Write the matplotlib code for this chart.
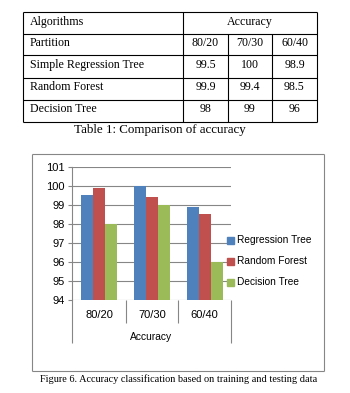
import matplotlib
matplotlib.use("Agg")
import matplotlib.pyplot as plt
from matplotlib.lines import Line2D

# ---- data ----
partitions = ["80/20", "70/30", "60/40"]
algorithms_table = ["Simple Regression Tree", "Random Forest", "Decision Tree"]
series_names = ["Regression Tree", "Random Forest", "Decision Tree"]
regression_tree = [99.5, 100, 98.9]
random_forest = [99.9, 99.4, 98.5]
decision_tree = [98, 99, 96]
table_values = [["99.5", "100", "98.9"], ["99.9", "99.4", "98.5"], ["98", "99", "96"]]
yticks = [94, 95, 96, 97, 98, 99, 100, 101]
colors = ["#4F81BD", "#C0504D", "#9BBB59"]

W, H = 350, 393
fig = plt.figure(figsize=(W / 100, H / 100), dpi=100)
fig.patch.set_facecolor("white")

def fx(x):
    return x / W

def fy(y):
    return 1 - y / H

def fline(x0, y0, x1, y1, color="black", lw=0.8):
    fig.add_artist(Line2D([fx(x0), fx(x1)], [fy(y0), fy(y1)], color=color, lw=lw,
                          transform=fig.transFigure, solid_capstyle="butt"))

serif = "Liberation Serif"
sans = "Liberation Sans"

# ---- table ----
tl, tr = 23, 317
rows_y = [12, 34, 55, 78, 100, 122]
col_x = [183, 228, 272]
for y in rows_y:
    fline(tl, y, tr, y)
fline(tl, 12, tl, 122)
fline(tr, 12, tr, 122)
fline(col_x[0], 12, col_x[0], 122)
for cx in col_x[1:]:
    fline(cx, 34, cx, 122)

tfs = 8.6
dy = -1.5
fig.text(fx(30), fy(23 + dy), "Algorithms", family=serif, fontsize=tfs, va="center", ha="left")
fig.text(fx((183 + 317) / 2), fy(23 + dy), "Accuracy", family=serif, fontsize=tfs, va="center", ha="center")
centers = [(183 + 228) / 2, (228 + 272) / 2, (272 + 317) / 2]
fig.text(fx(30), fy(44.5 + dy), "Partition", family=serif, fontsize=tfs, va="center", ha="left")
for c, p in zip(centers, partitions):
    fig.text(fx(c), fy(44.5 + dy), p, family=serif, fontsize=tfs, va="center", ha="center")
for i, name in enumerate(algorithms_table):
    yc = (rows_y[i + 2] + rows_y[i + 3]) / 2 + dy
    fig.text(fx(30), fy(yc), name, family=serif, fontsize=tfs, va="center", ha="left")
    for c, v in zip(centers, table_values[i]):
        fig.text(fx(c), fy(yc), v, family=serif, fontsize=tfs, va="center", ha="center")
fig.text(fx(160), fy(129.5), "Table 1: Comparison of accuracy", family=serif, fontsize=9.4,
         va="center", ha="center")

# ---- chart frame ----
frame_col = "#868686"
fline(32, 154, 324, 154, frame_col)
fline(32, 371, 324, 371, frame_col)
fline(32, 154, 32, 371, frame_col)
fline(324, 154, 324, 371, frame_col)

# ---- chart axes ----
al, ar, at, ab = 72, 231, 167, 300
ax = fig.add_axes([fx(al), fy(ab), fx(ar) - fx(al), fy(at) - fy(ab)])
ax.set_facecolor("none")
x = range(len(partitions))
bw = 12 / 53
series = [regression_tree, random_forest, decision_tree]
for k, (vals, col, name) in enumerate(zip(series, colors, series_names)):
    ax.bar([i + (k - 1) * bw for i in x], [v - 94 for v in vals], bottom=94, width=bw,
           color=col, label=name, zorder=3)
ax.set_xlim(-0.5, 2.5)
ax.set_ylim(94, 101)
ax.set_yticks(yticks)
ax.set_yticklabels([str(t) for t in yticks], family=sans, fontsize=8)
ax.yaxis.grid(True, color=frame_col, lw=0.8, zorder=0)
ax.set_xticks([])
for s in ["top", "right", "bottom"]:
    ax.spines[s].set_visible(False)
ax.spines["left"].set_color(frame_col)
ax.spines["left"].set_linewidth(0.8)
ax.tick_params(axis="y", length=3, color=frame_col, width=0.8, pad=2)

# category axis separators
fline(al, ab, al, 343, frame_col)
fline(ar, ab, ar, 343, frame_col)
for sx in [126, 178]:
    fline(sx, ab, sx, 323, frame_col)
cat_centers = [(72 + 126) / 2, (126 + 178) / 2, (178 + 231) / 2]
for c, p in zip(cat_centers, partitions):
    fig.text(fx(c), fy(315), p, family=sans, fontsize=8, ha="center", va="center")
fig.text(fx((al + ar) / 2), fy(337), "Accuracy", family=sans, fontsize=7.4, ha="center", va="center")

# legend
for k, (col, name) in enumerate(zip(colors, series_names)):
    yc = 240 + k * 21
    fig.add_artist(plt.Rectangle((fx(227), fy(yc + 3.5)), fx(7), 7 / H, color=col,
                                 transform=fig.transFigure))
    fig.text(fx(237), fy(yc), name, family=sans, fontsize=7.3, ha="left", va="center")

fig.text(fx(179), fy(379), "Figure 6. Accuracy classification based on training and testing data",
         family=serif, fontsize=7.4, ha="center", va="center")

fig.savefig("out.png", dpi=100)
